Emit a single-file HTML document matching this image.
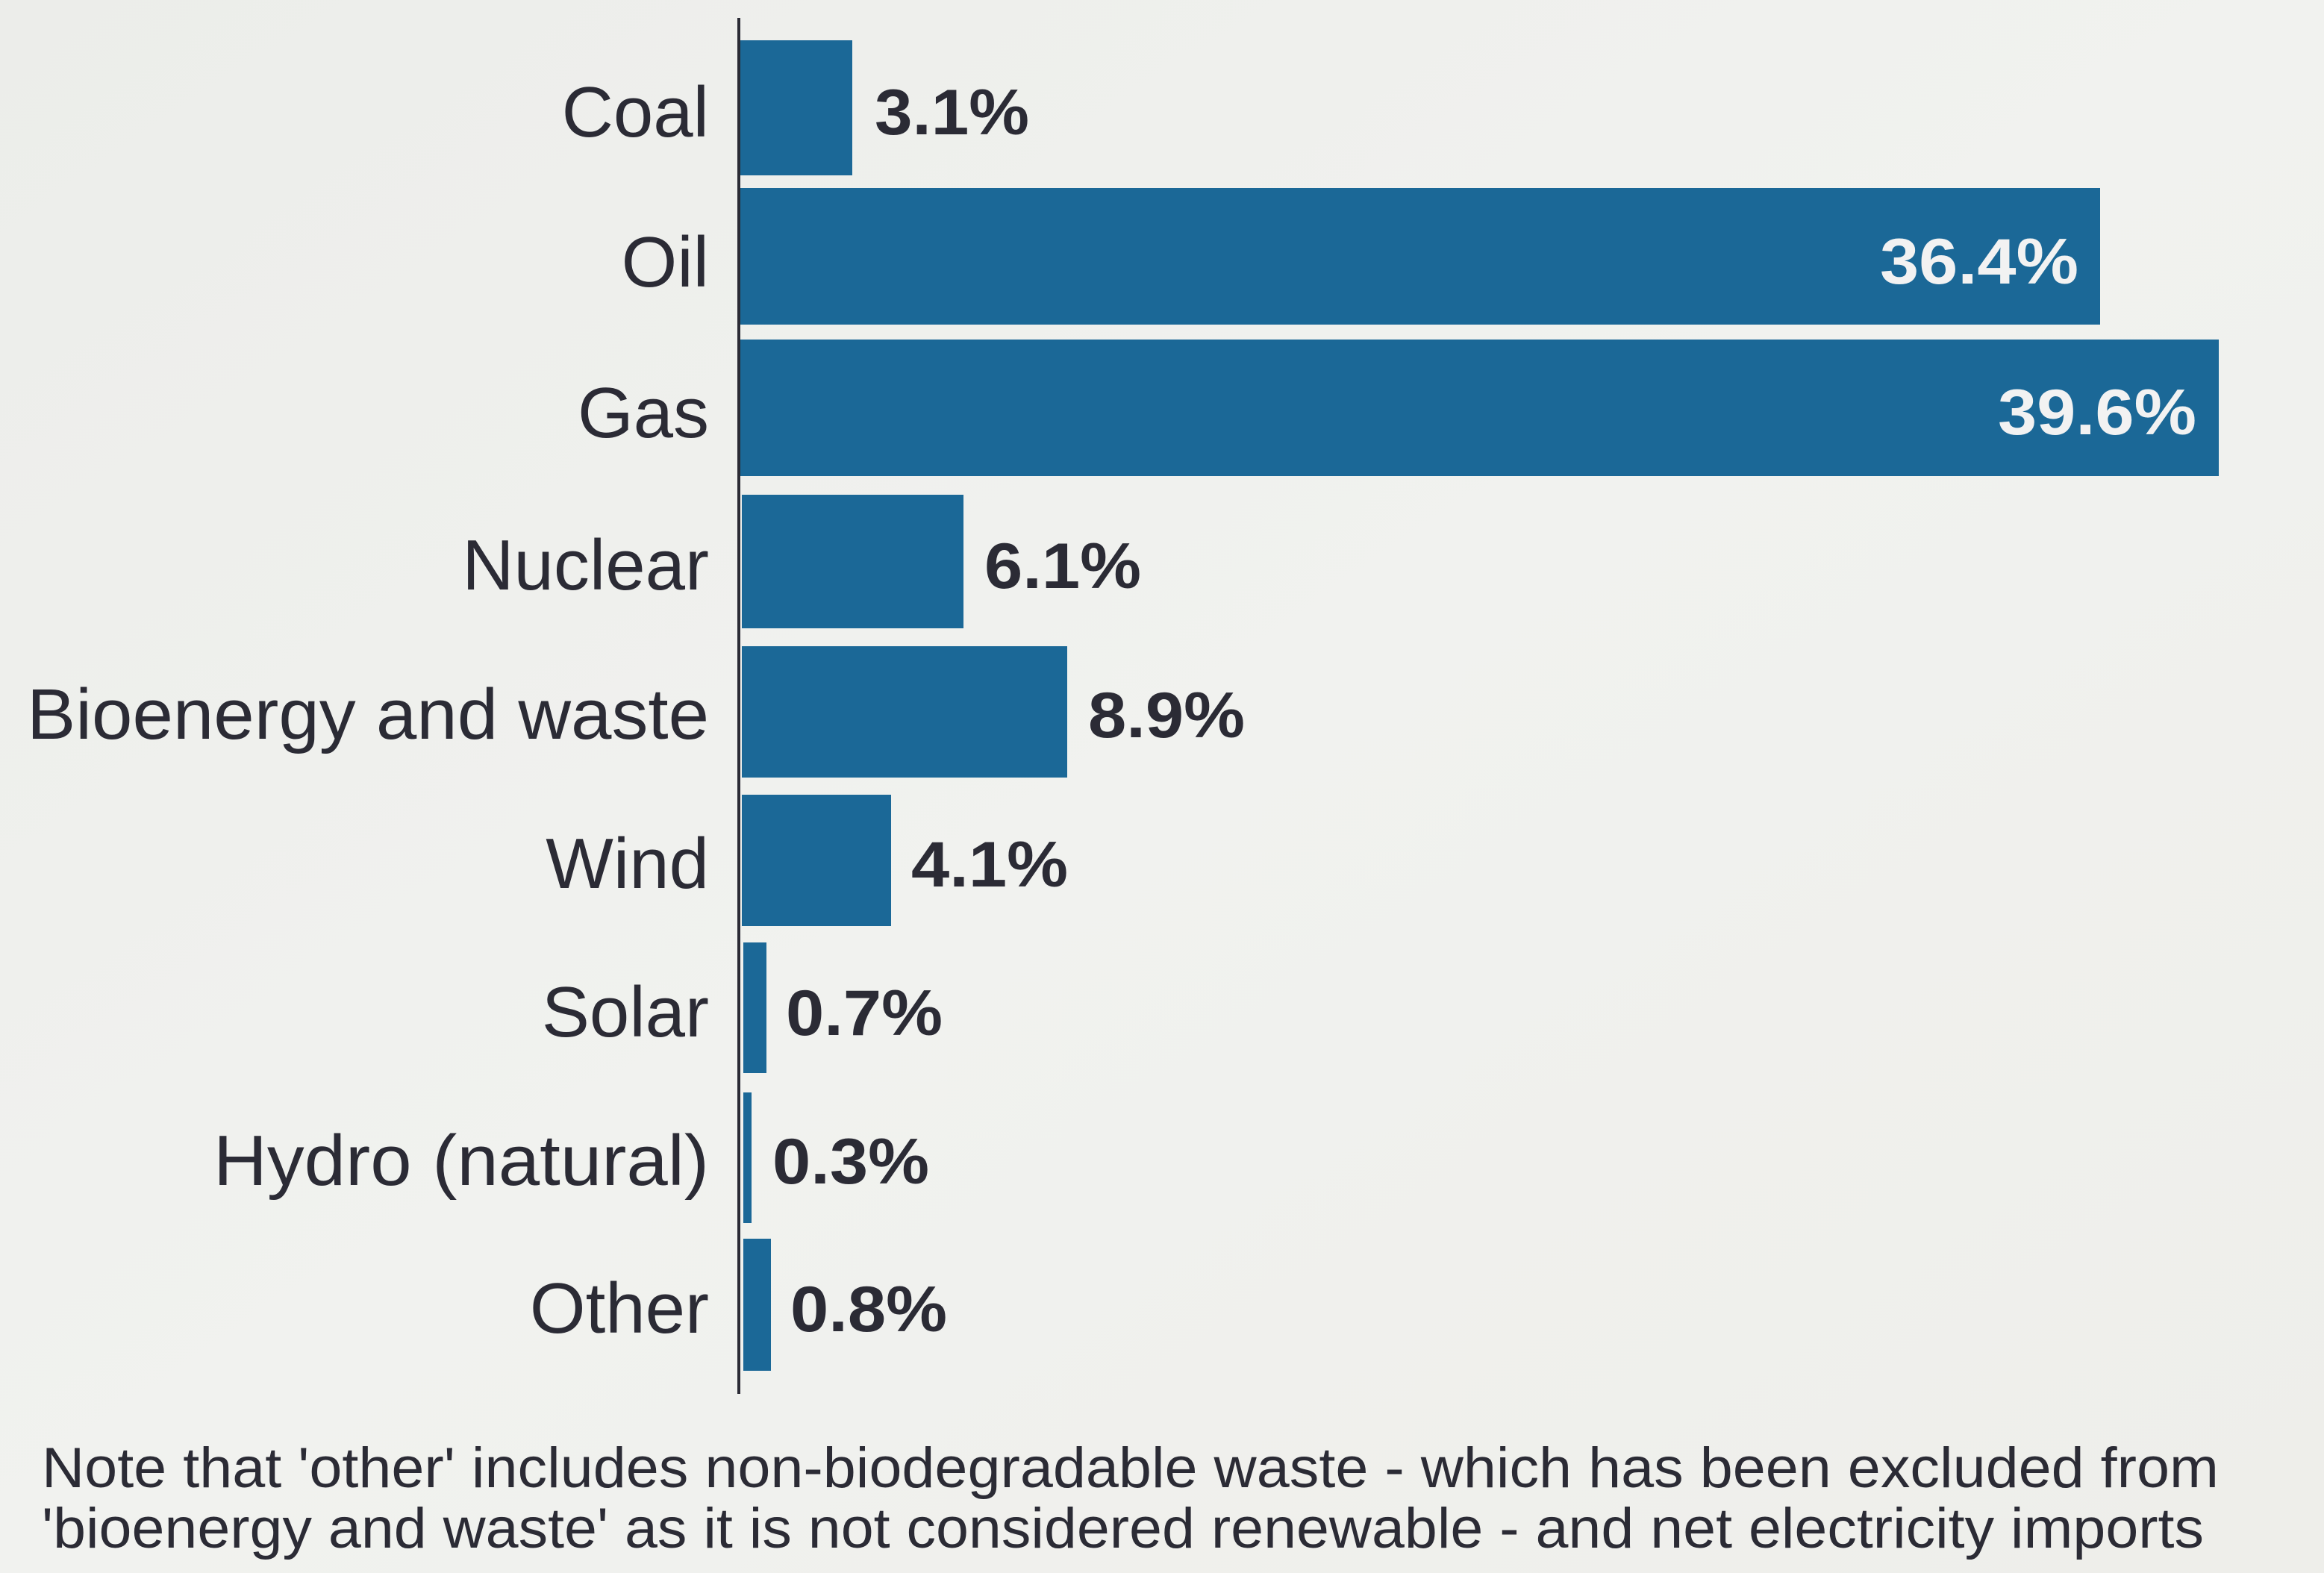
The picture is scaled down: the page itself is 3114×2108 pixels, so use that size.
<!DOCTYPE html>
<html><head><meta charset="utf-8"><style>
html,body{margin:0;padding:0;background:#eeefec;}
svg{display:block}
text{font-family:"Liberation Sans",sans-serif;fill:#2b2b35}
.l{font-size:96px;text-anchor:end}
.v{font-size:86px;font-weight:bold}
.n{font-size:76px}
</style></head><body>
<svg width="3114" height="2108" viewBox="0 0 3114 2108" xmlns="http://www.w3.org/2000/svg">
<defs><linearGradient id="bg" x1="0" y1="0" x2="1" y2="1"><stop offset="0" stop-color="#ecedea"/><stop offset="0.5" stop-color="#f1f2ef"/><stop offset="1" stop-color="#eeeeea"/></linearGradient></defs>
<rect width="3114" height="2108" fill="url(#bg)"/>
<g fill="#1b6897">
<rect x="992" y="54" width="150" height="181"/>
<rect x="992" y="252" width="1822" height="183"/>
<rect x="992" y="455" width="1981" height="183"/>
<rect x="994" y="663" width="297" height="179"/>
<rect x="994" y="866" width="436" height="176"/>
<rect x="994" y="1065" width="200" height="176"/>
<rect x="996" y="1263" width="31" height="175"/>
<rect x="996" y="1464" width="11" height="175"/>
<rect x="996" y="1660" width="37" height="177"/>
</g>
<rect x="988" y="24" width="4" height="1844" fill="#2b2b35"/>
<text class="l" x="950" y="183">Coal</text>
<text class="l" x="950" y="384">Oil</text>
<text class="l" x="950" y="586">Gas</text>
<text class="l" x="950" y="790">Nuclear</text>
<text class="l" x="950" y="990" textLength="914" lengthAdjust="spacingAndGlyphs">Bioenergy and waste</text>
<text class="l" x="950" y="1190">Wind</text>
<text class="l" x="950" y="1389">Solar</text>
<text class="l" x="950" y="1588" textLength="664" lengthAdjust="spacingAndGlyphs">Hydro (natural)</text>
<text class="l" x="950" y="1786">Other</text>
<text class="v" x="1172" y="180" textLength="207" lengthAdjust="spacingAndGlyphs">3.1%</text>
<text class="v" x="2519" y="380" textLength="266" lengthAdjust="spacingAndGlyphs" style="fill:#f2f2f2">36.4%</text>
<text class="v" x="2677" y="582" textLength="266" lengthAdjust="spacingAndGlyphs" style="fill:#f2f2f2">39.6%</text>
<text class="v" x="1319" y="788" textLength="210" lengthAdjust="spacingAndGlyphs">6.1%</text>
<text class="v" x="1458" y="988" textLength="210" lengthAdjust="spacingAndGlyphs">8.9%</text>
<text class="v" x="1221" y="1188" textLength="210" lengthAdjust="spacingAndGlyphs">4.1%</text>
<text class="v" x="1053" y="1387" textLength="210" lengthAdjust="spacingAndGlyphs">0.7%</text>
<text class="v" x="1035" y="1586" textLength="210" lengthAdjust="spacingAndGlyphs">0.3%</text>
<text class="v" x="1059" y="1784" textLength="210" lengthAdjust="spacingAndGlyphs">0.8%</text>
<text class="n" x="56" y="1993" textLength="2917" lengthAdjust="spacingAndGlyphs">Note that 'other' includes non-biodegradable waste - which has been excluded from</text>
<text class="n" x="56" y="2074" textLength="2897" lengthAdjust="spacingAndGlyphs">'bioenergy and waste' as it is not considered renewable - and net electricity imports</text>
</svg>
</body></html>
